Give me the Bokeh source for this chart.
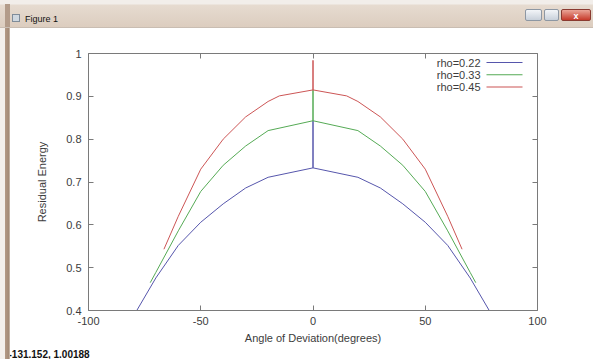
from bokeh.plotting import figure
from bokeh.models import (LinearAxis, FixedTicker, NumeralTickFormatter, Range1d,
                          Label, BoxAnnotation, Div, Title)
from bokeh.layouts import column, row
from bokeh.embed import file_html
from bokeh.resources import INLINE

# ---------------- data ----------------
series_names = ["rho=0.22", "rho=0.33", "rho=0.45"]

angles_022 = [-78.5, -70, -60, -50, -40, -30, -20, 0, 0, 0, 20, 30, 40, 50, 60, 70, 78.5]
energy_022 = [0.400, 0.476, 0.552, 0.606, 0.649, 0.686, 0.711, 0.733, 0.843, 0.733,
              0.711, 0.686, 0.649, 0.606, 0.552, 0.476, 0.400]

angles_033 = [-72.5, -70, -60, -50, -40, -30, -20, 0, 0, 0, 20, 30, 40, 50, 60, 70, 72.5]
energy_033 = [0.465, 0.489, 0.586, 0.678, 0.739, 0.784, 0.820, 0.843, 0.915, 0.843,
              0.820, 0.784, 0.739, 0.678, 0.586, 0.489, 0.465]

angles_045 = [-66.4, -60, -50, -40, -30, -20, -15, 0, 0, 0, 15, 20, 30, 40, 50, 60, 66.4]
energy_045 = [0.543, 0.620, 0.730, 0.800, 0.852, 0.888, 0.901, 0.915, 0.984, 0.915,
              0.901, 0.888, 0.852, 0.800, 0.730, 0.620, 0.543]

x_ticks = [-100, -50, 0, 50, 100]
y_ticks = [0.4, 0.5, 0.6, 0.7, 0.8, 0.9, 1.0]
x_label = "Angle of Deviation(degrees)"
y_label = "Residual Energy"
window_title = "Figure 1"
status_text = "-131.152, 1.00188"

colors = ["#5656ac", "#55aa55", "#cc5555"]
FONT = "Liberation Sans"
AX = "#7a7a7a"
TXT = "#3c3c3c"

# ---------------- window chrome ----------------
bar_html = f"""
<div style="position:relative;width:593px;height:28px;box-sizing:border-box;
 background:linear-gradient(to bottom,#f2eeea 0px,#f2eeea 4px,#e6dbd0 5px,#dccdbf 27px);
 border-bottom:1px solid #c9bdb2;font-family:'{FONT}',sans-serif;overflow:hidden;">
 <div style="position:absolute;left:5px;top:4px;width:5px;height:24px;background:#b39c8a;"></div>
 <div style="position:absolute;left:12px;top:14px;width:8px;height:8px;background:#cfd8e0;border:1px solid #7f8c99;"></div>
 <span style="position:absolute;left:25px;top:13px;font-size:9px;color:#111;">{window_title}</span>
 <div style="position:absolute;left:525px;top:9px;width:17px;height:12px;border-radius:2px;
  background:linear-gradient(#f3f5f8,#c8d0da);border:1px solid #8d97a3;"></div>
 <div style="position:absolute;left:544px;top:9px;width:15px;height:12px;border-radius:2px;
  background:linear-gradient(#f3f5f8,#c8d0da);border:1px solid #8d97a3;"></div>
 <div style="position:absolute;left:561px;top:9px;width:30px;height:12px;border-radius:2px;
  background:linear-gradient(#eaa597,#c63a2a);border:1px solid #8a3a30;color:#fff;
  font-size:9px;font-weight:bold;text-align:center;line-height:12px;">x</div>
</div>
"""
bar = Div(text=bar_html, width=593, height=28, styles={"margin": "0", "padding": "0"})

strip = Div(text='<div style="width:10px;height:331px;background:linear-gradient(to right,'
                 '#f4f0ec 0px,#f4f0ec 5px,#b49a86 5px,#a38a76 9px,#e0d6cc 10px);"></div>',
            width=10, height=331, styles={"margin": "0", "padding": "0"})

bottom_band = Div(text='<div style="width:593px;height:5px;background:linear-gradient(to bottom,'
                       '#c8b4a2,#a88c76);"></div>',
                  width=593, height=5, styles={"margin": "0", "padding": "0"})

# ---------------- plot ----------------
p = figure(width=583, height=331, x_range=Range1d(-100, 100), y_range=Range1d(0.4, 1.0),
           output_backend="svg", toolbar_location=None,
           min_border_left=78, min_border_right=56, min_border_top=25, min_border_bottom=47)
p.outline_line_color = None
p.grid.visible = False
p.background_fill_color = "white"
p.border_fill_color = "white"

p.add_layout(LinearAxis(), "above")
p.add_layout(LinearAxis(), "right")

for ax in p.axis:
    ax.axis_line_color = AX
    ax.major_tick_line_color = AX
    ax.major_tick_in = 5
    ax.major_tick_out = 0
    ax.minor_tick_line_color = None
    ax.major_label_text_font = FONT
    ax.major_label_text_font_size = "11px"
    ax.major_label_text_color = TXT
    ax.axis_label_text_font = FONT
    ax.axis_label_text_font_size = "11px"
    ax.axis_label_text_font_style = "normal"
    ax.axis_label_text_color = TXT

for ax in p.xaxis:
    ax.ticker = FixedTicker(ticks=x_ticks)
    ax.formatter = NumeralTickFormatter(format="0")
for ax in p.yaxis:
    ax.ticker = FixedTicker(ticks=y_ticks)
    ax.formatter = NumeralTickFormatter(format="0.[0]")

bottom = p.below[0]
left = p.left[0]
bottom.axis_label = x_label
bottom.major_label_standoff = 6
bottom.axis_label_standoff = 4
left.axis_label = y_label
left.major_label_standoff = 7
left.axis_label_standoff = 15

for ax in (p.above[0], p.right[0]):
    ax.major_label_text_font_size = "0px"
    ax.major_label_standoff = 0
    ax.major_label_text_alpha = 0

series = [(angles_022, energy_022), (angles_033, energy_033), (angles_045, energy_045)]
for (xs, ys), c in zip(series, colors):
    p.line(xs, ys, line_color=c, line_width=1)

# gnuplot-style key: text then line sample
for i, (name, c) in enumerate(zip(series_names, colors)):
    yy = 248 - 12.3 * i
    p.add_layout(Label(x=392, y=yy, x_units="screen", y_units="screen", text=name,
                       text_align="right", text_baseline="middle",
                       text_font=FONT, text_font_size="11px", text_color=TXT))
    p.add_layout(BoxAnnotation(left=398, right=434, bottom=yy - 0.5, top=yy + 0.5,
                               left_units="screen", right_units="screen",
                               bottom_units="screen", top_units="screen",
                               fill_color=c, fill_alpha=1.0, line_color=None))

p.add_layout(Title(text=status_text, align="left", offset=-80, standoff=0,
                   text_font=FONT, text_font_size="10px", text_font_style="bold",
                   text_color="#111111"), "below")

layout = column(bar, row(strip, p, spacing=0), bottom_band, spacing=0)
open("out.html", "w").write(file_html(layout, INLINE))
